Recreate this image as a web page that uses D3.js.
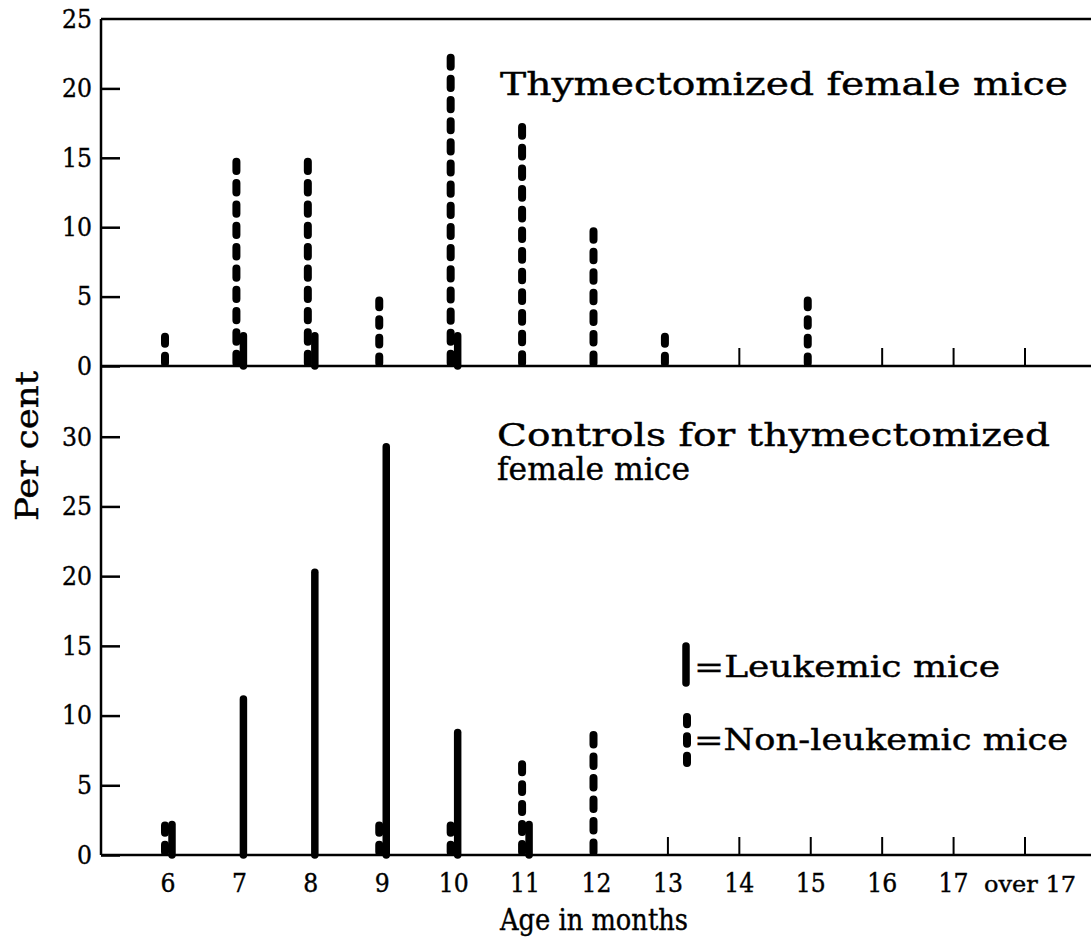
<!DOCTYPE html>
<html>
<head>
<meta charset="utf-8">
<script src="https://cdn.jsdelivr.net/npm/d3@7"></script>
<style>
  body { margin: 0; background: #fff; }
  text { font-family: "DejaVu Serif", "Liberation Serif", serif; fill: #000; stroke: #000; stroke-width: 0.4; }
</style>
</head>
<body>
<div id="chart"></div>
<script>
const W = 1091;
const H = 943;

// age groups (months)
const ages = ["6", "7", "8", "9", "10", "11", "12", "13", "14", "15", "16", "17", "over 17"];

// Thymectomized female mice, per cent
const thymLeukemic    = [0,   2.4, 2.4, 0, 2.4,  0,    0,  0,   0, 0, 0, 0, 0];
const thymNonLeukemic = [2.4, 15,  15,  5, 22.5, 17.5, 10, 2.4, 0, 5, 0, 0, 0];

// Controls for thymectomized female mice, per cent
const ctrlLeukemic    = [2.4, 11.4, 20.5, 29.5, 9,   2.4, 0,   0, 0, 0, 0, 0, 0];
const ctrlNonLeukemic = [2.4, 0,    0,    2.4,  2.4, 6.8, 8.9, 0, 0, 0, 0, 0, 0];

const topTicks = [0, 5, 10, 15, 20, 25];
const bottomTicks = [0, 5, 10, 15, 20, 25, 30];

const left = 101, right = W;
const gap = 12;
const svg = d3.select("#chart").append("svg")
    .attr("width", W)
    .attr("height", H);

const x = d3.scalePoint().domain(ages).range([168, 1025]);
const yTop = d3.scaleLinear().domain([0, 25]).range([366, 19]);
const yBot = d3.scaleLinear().domain([0, 35]).range([855, 367]);

// frame lines
svg.append("line").attr("x1", left).attr("x2", left).attr("y1", 19).attr("y2", 855)
    .attr("stroke", "#000").attr("stroke-width", 2.5);
[19, 366, 855].forEach(yy => {
    svg.append("line").attr("x1", left).attr("x2", right).attr("y1", yy).attr("y2", yy)
        .attr("stroke", "#000").attr("stroke-width", 2.5);
});

function drawAxis(scale, ticks){
    const g = svg.append("g")
        .attr("transform", "translate(" + left + ",0)")
        .call(d3.axisLeft(scale).tickValues(ticks).tickSize(-19).tickPadding(9));
    g.select(".domain").remove();
    g.selectAll(".tick line").attr("stroke", "#000").attr("stroke-width", 2.5);
    g.selectAll(".tick text")
        .attr("font-size", 26)
        .attr("font-family", "DejaVu Serif")
        .attr("fill", "#000")
        .attr("textLength", d => d >= 10 ? 30 : 15)
        .attr("lengthAdjust", "spacingAndGlyphs");
    // tick at the top border is the border itself
    g.selectAll(".tick").filter(d => d === 25 && scale === yTop).select("line").remove();
}
drawAxis(yTop, topTicks);
drawAxis(yBot, bottomTicks);

// dash pattern that starts and ends on a dash
function dashFor(len){
    const n = Math.max(1, Math.round((len + gap) / 21));
    const d = (len - (n - 1) * gap) / n;
    return d + " " + gap;
}

function drawPanel(scale, leuk, nonLeuk){
    const g = svg.append("g");
    // small ticks where the age group has no bar
    g.selectAll(".xt")
        .data(ages.filter((a, i) => !leuk[i] && !nonLeuk[i]))
        .join("line")
        .attr("x1", d => x(d)).attr("x2", d => x(d))
        .attr("y1", scale(0)).attr("y2", scale(0) - 18)
        .attr("stroke", "#000").attr("stroke-width", 2);

    g.selectAll(".dash")
        .data(ages.map((a, i) => ({a: a, v: nonLeuk[i]})).filter(d => d.v > 0))
        .join("line")
        .attr("x1", d => x(d.a) - 3).attr("x2", d => x(d.a) - 3)
        .attr("y1", d => scale(d.v) + 4).attr("y2", scale(0) - 3)
        .attr("stroke", "#000").attr("stroke-width", 8)
        .attr("stroke-linecap", "round")
        .attr("stroke-dasharray", d => dashFor(scale(0) - 3 - scale(d.v) - 4));

    g.selectAll(".solid")
        .data(ages.map((a, i) => ({a: a, v: leuk[i]})).filter(d => d.v > 0))
        .join("line")
        .attr("x1", d => x(d.a) + 4).attr("x2", d => x(d.a) + 4)
        .attr("y1", scale(0)).attr("y2", d => scale(d.v) + 3)
        .attr("stroke", "#000").attr("stroke-width", 7.5)
        .attr("stroke-linecap", "round");
}
drawPanel(yTop, thymLeukemic, thymNonLeukemic);
drawPanel(yBot, ctrlLeukemic, ctrlNonLeukemic);

// x labels
svg.append("g").selectAll("text")
    .data(ages)
    .join("text")
    .attr("x", d => x(d) + (d === "over 17" ? 5 : 0))
    .attr("y", 892)
    .attr("text-anchor", "middle")
    .attr("font-size", d => d === "over 17" ? 22 : 26)
    .attr("textLength", d => d === "over 17" ? 92 : (d.length > 1 ? 30 : 15))
    .attr("lengthAdjust", "spacingAndGlyphs")
    .text(d => d);

// panel titles
function label(t, xx, yy, len, size){
    svg.append("text").attr("x", xx).attr("y", yy)
        .attr("font-size", size)
        .attr("textLength", len)
        .attr("lengthAdjust", "spacingAndGlyphs")
        .text(t);
}
label("Thymectomized female mice", 500, 95, 568, 31);
label("Controls for thymectomized", 497, 446, 553, 31);
label("female mice", 497, 480, 193, 31);
label("=Leukemic mice", 694, 677, 306, 29);
label("=Non-leukemic mice", 694, 750, 374, 29);
label("Age in months", 500, 930, 188, 30);

// legend marks
svg.append("line").attr("x1", 686).attr("x2", 686).attr("y1", 646).attr("y2", 683)
    .attr("stroke", "#000").attr("stroke-width", 7.5).attr("stroke-linecap", "round");
svg.append("line").attr("x1", 687).attr("x2", 687).attr("y1", 717).attr("y2", 763)
    .attr("stroke", "#000").attr("stroke-width", 8).attr("stroke-linecap", "round")
    .attr("stroke-dasharray", dashFor(46));

// y title
svg.append("text")
    .attr("transform", "translate(38,446) rotate(-90)")
    .attr("text-anchor", "middle")
    .attr("font-size", 31)
    .attr("textLength", 150)
    .attr("lengthAdjust", "spacingAndGlyphs")
    .text("Per cent");
</script>
</body>
</html>
